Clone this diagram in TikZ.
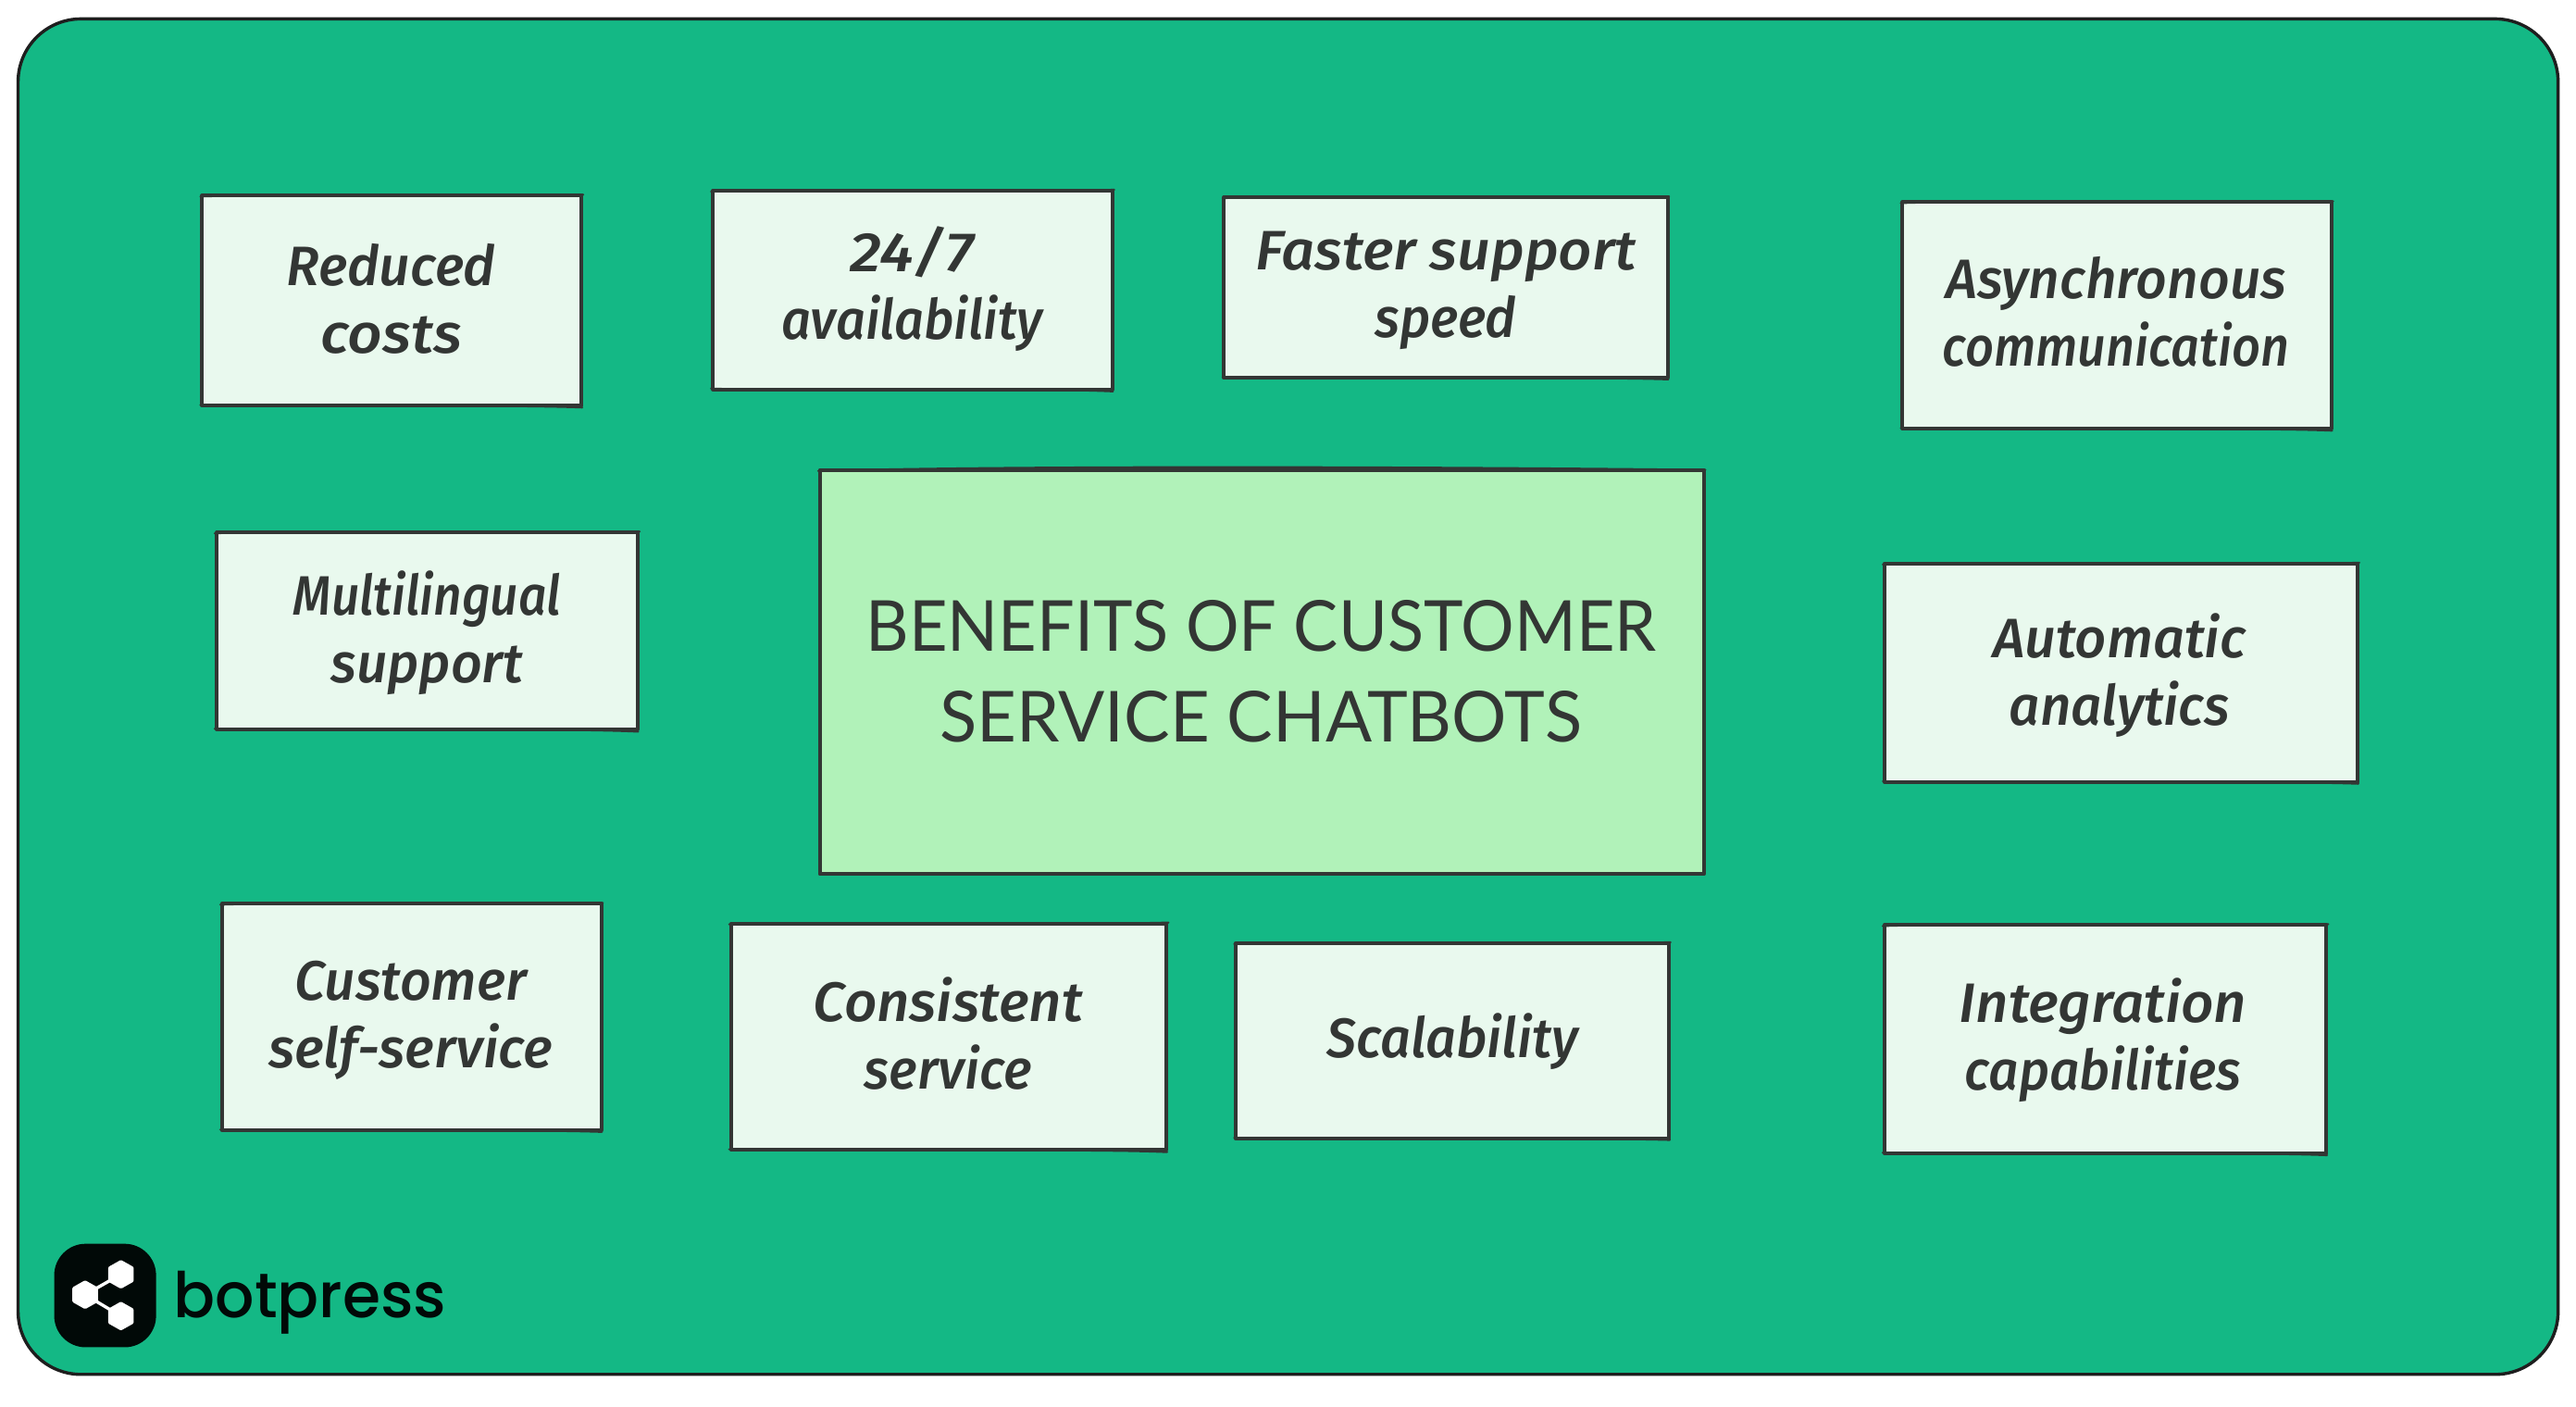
\documentclass[tikz,border=0pt]{standalone}
\usepackage{fontspec}
\usepackage{graphicx}
\setmainfont{Fira Sans}
\newfontfamily\handfont{Fira Sans Medium}[UprightFont=*  Italic]
\newfontfamily\titlefont{Lato}
\newfontfamily\brandfont{Poppins Medium}
\definecolor{bgreen}{HTML}{14B885}
\definecolor{cardfill}{HTML}{E9F9EE}
\definecolor{mainfill}{HTML}{B1F2B9}
\definecolor{inkc}{HTML}{333634}
\definecolor{outerink}{HTML}{1E1E1E}
\newcommand\fitl[2]{\resizebox{\dimexpr#1pt*8875/10000\relax}{\height}{#2}}
% name, x1,y1,x2,y2, label centre x,y, jitter, text
\newcommand\card[9]{%
  \path[boxfill,fill=cardfill] (#2,#3) rectangle (#4,#5);
  \coordinate (#1-a) at (#2,#3);\coordinate (#1-b) at (#4,#3);
  \coordinate (#1-c) at (#4,#5);\coordinate (#1-d) at (#2,#5);
  \draw[sketchline] (#1-a) -- (#1-b) -- (#1-c) -- (#1-d) -- cycle;
  \draw[sketchthin] ([shift={(-#8,.6)}]#1-a) .. controls ([shift={(40,-#8)}]#1-a) and ([shift={(-60,#8)}]#1-b) .. ([shift={(#8,-.5)}]#1-b)
     ([shift={(.4,#8)}]#1-c) .. controls ([shift={(-50,-#8)}]#1-c) and ([shift={(50,#8)}]#1-d) .. ([shift={(-#8,-.5)}]#1-d);
  \node[cardtext] (#1) at (#6,#7) {#9};
}
\tikzset{
  boxfill/.style={line width=0pt},
  sketchline/.style={draw=inkc,line width=2pt,line join=round,line cap=round},
  sketchthin/.style={draw=inkc,line width=1.1pt,line cap=round},
  cardtext/.style={inner sep=0pt,align=center,text=inkc,font=\handfont\fontsize{30}{36.4}\selectfont},
  hexa/.style={fill=white,rounded corners=.6pt},
}
\newcommand\hexat[2]{(#1,#2-8.8) -- (#1+7.8,#2-4.4) -- (#1+7.8,#2+4.4) -- (#1,#2+8.8) -- (#1-7.8,#2+4.4) -- (#1-7.8,#2-4.4) -- cycle}
\begin{document}
\begin{tikzpicture}[x=0.8875pt,y=-0.8875pt]
\useasboundingbox (0,0) rectangle (1567.9,856.3);
\fill[white] (0,0) rectangle (1567.9,856.3);
\draw[fill=bgreen,draw=outerink,line width=1.7pt,rounded corners=34] (11,11.5) rectangle (1557,836.5);

\card{reduced}{123}{119}{354}{247}{238}{182}{1.0}{\fitl{127}{Reduced}\\\fitl{86}{costs}}
\card{avail}{434}{116}{677}{237}{555}{176}{1.2}{\fitl{75}{24/7}\\\fitl{159}{availability}}
\card{faster}{745}{120}{1015}{230}{880}{177}{0.9}{\fitl{232}{Faster support}\\\fitl{86}{speed}}
\card{async}{1158}{123}{1419}{261}{1288}{190}{1.1}{\fitl{207}{Asynchronous}\\\fitl{211}{communication}}
\card{multi}{132}{324}{388}{444}{260}{385}{1.3}{\fitl{163}{Multilingual}\\\fitl{117}{support}}
\card{auto}{1147}{343}{1435}{476}{1290}{411}{1.0}{\fitl{154}{Automatic}\\\fitl{134}{analytics}}
\card{customer}{135}{550}{366}{688}{250}{621}{0.9}{\fitl{141}{Customer}\\\fitl{173}{self-service}}
\card{consistent}{445}{562}{710}{700}{577}{629}{1.2}{\fitl{164}{Consistent}\\\fitl{102}{service}}
\card{scal}{752}{574}{1016}{693}{884}{634}{0.8}{\fitl{153}{Scalability}}
\card{integ}{1147}{563}{1416}{702}{1280}{633}{1.1}{\fitl{175}{Integration}\\\fitl{168}{capabilities}}

% central box
\path[boxfill,fill=mainfill] (499,286) rectangle (1037,532);
\coordinate (mA) at (499,286);\coordinate (mB) at (1037,286);\coordinate (mC) at (1037,532);\coordinate (mD) at (499,532);
\draw[sketchline] (mA) -- (mB) -- (mC) -- (mD) -- cycle;
\draw[sketchthin] ([shift={(-1,.6)}]mA) .. controls ([shift={(120,-2.6)}]mA) and ([shift={(-180,-2)}]mB) .. ([shift={(1,0)}]mB);
\node[inner sep=0pt,align=center,text=inkc,font=\titlefont\fontsize{38}{48.8}\selectfont] (title) at (767.5,408.5)
  {\fitl{481}{BENEFITS OF CUSTOMER}\\\fitl{391}{SERVICE CHATBOTS}};

% logo
\fill[black!95!bgreen,rounded corners=17] (33,757) rectangle (95,820);
\coordinate (hT) at (73.6,775.6);\coordinate (hL) at (51.8,788);\coordinate (hB) at (73.6,801);
\draw[white,line width=1.7pt] (hL) -- (hT) (hL) -- (hB);
\fill[hexa] \hexat{73.6}{775.6};
\fill[hexa] \hexat{51.8}{788};
\fill[hexa] \hexat{73.6}{801};
\node[anchor=base west,inner sep=0pt,text=black!95!bgreen,font=\brandfont\fontsize{34}{40}\selectfont] (brand) at (105.5,802) {\fitl{166}{botpress}};
\end{tikzpicture}
\end{document}
